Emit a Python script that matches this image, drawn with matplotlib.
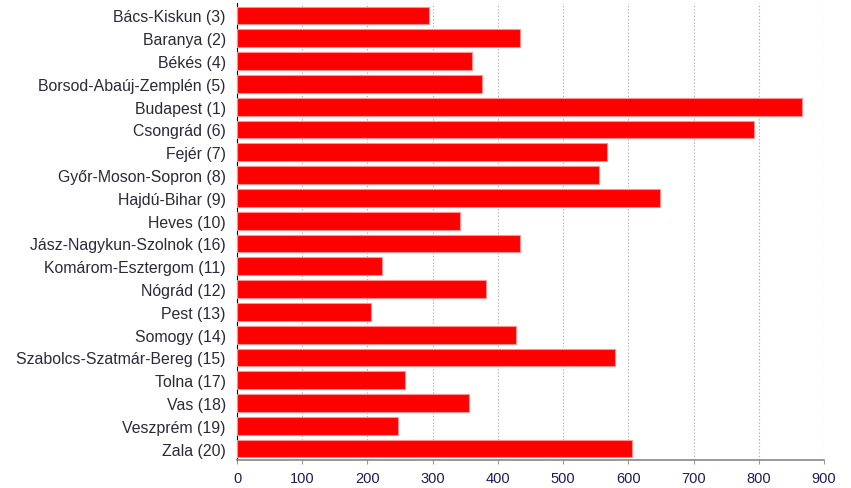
import matplotlib
matplotlib.use('Agg')
import matplotlib.pyplot as plt

counties = ['Bács-Kiskun (3)', 'Baranya (2)', 'Békés (4)', 'Borsod-Abaúj-Zemplén (5)',
            'Budapest (1)', 'Csongrád (6)', 'Fejér (7)', 'Győr-Moson-Sopron (8)',
            'Hajdú-Bihar (9)', 'Heves (10)', 'Jász-Nagykun-Szolnok (16)',
            'Komárom-Esztergom (11)', 'Nógrád (12)', 'Pest (13)', 'Somogy (14)',
            'Szabolcs-Szatmár-Bereg (15)', 'Tolna (17)', 'Vas (18)', 'Veszprém (19)',
            'Zala (20)']
values = [294, 434, 361, 375, 866, 793, 567, 555, 649, 342, 434, 222, 381, 206, 427,
          579, 258, 356, 247, 606]
xticks = [0, 100, 200, 300, 400, 500, 600, 700, 800, 900]

plt.rcParams['font.family'] = ['Liberation Sans', 'DejaVu Sans']

fig = plt.figure(figsize=(8.51, 4.89), dpi=100)
ax = fig.add_axes([0.2785, 0.0573, 0.6898, 0.9346])

ypos = list(range(len(counties)))
ax.barh(ypos, values, height=0.78, color='#ff0000', edgecolor='#ff9090', linewidth=0.8, zorder=3)

ax.set_ylim(len(counties) - 0.5, -0.55)
ax.set_xlim(0, 900)
ax.set_yticks(ypos)
ax.set_yticklabels(counties, fontsize=11.4, color='#2a2a3a')
ax.set_xticks(xticks)
ax.set_xticklabels([str(t) for t in xticks], fontsize=10.5, color='#1c1c5c')
ax.tick_params(axis='y', length=0, pad=8)
ax.tick_params(axis='x', length=3, color='#999999', pad=5)

ax.grid(axis='x', linestyle=(0, (1.2, 1.8)), color='#b0b0b0', linewidth=0.8, zorder=0)
for s in ['top', 'right']:
    ax.spines[s].set_visible(False)
ax.spines['left'].set_color('black')
ax.spines['bottom'].set_color('#888888')
ax.spines['bottom'].set_linewidth(1.2)

plt.savefig('out.png', dpi=100)
